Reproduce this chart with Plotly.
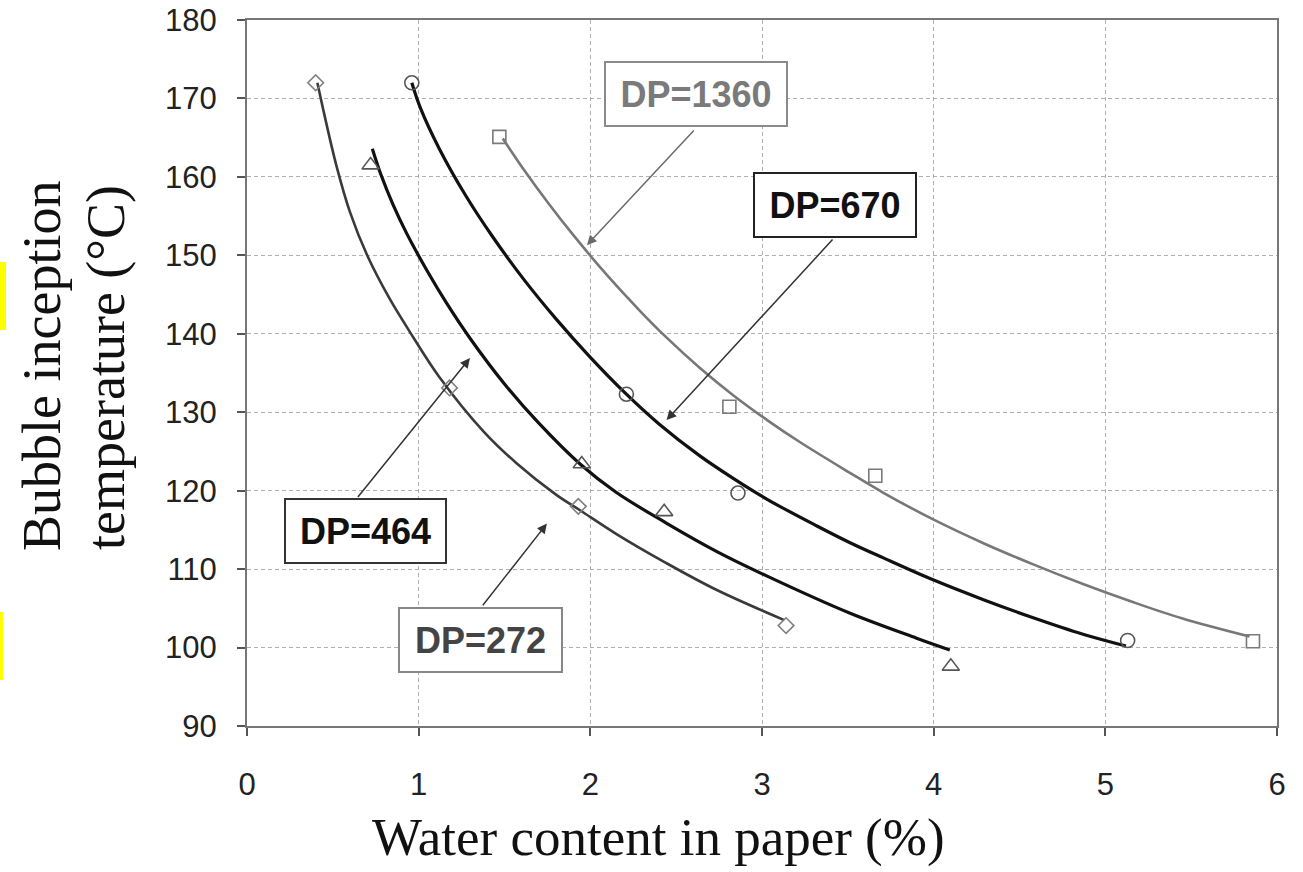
import plotly.graph_objects as go

# ---------------- data ----------------
x_ticks = [0, 1, 2, 3, 4, 5, 6]
y_ticks = [90, 100, 110, 120, 130, 140, 150, 160, 170, 180]

# measured points
dp272_x = [0.40, 1.18, 1.93, 3.14]
dp272_y = [172.0, 133.1, 118.0, 102.8]
dp464_x = [0.72, 1.95, 2.43, 4.10]
dp464_y = [161.5, 123.4, 117.3, 97.6]
dp670_x = [0.96, 2.21, 2.86, 5.13]
dp670_y = [172.0, 132.3, 119.7, 100.9]
dp1360_x = [1.47, 2.81, 3.66, 5.86]
dp1360_y = [165.1, 130.7, 121.9, 100.8]

# trend curves
c272_x = [0.41, 0.45, 0.52, 0.60, 0.70, 0.83, 0.97, 1.12, 1.38, 1.57,
          1.80, 1.94, 2.15, 2.44, 2.74, 3.13]
c272_y = [172.0, 168.0, 161.5, 155.5, 150.0, 144.5, 139.5, 134.5, 127.5, 123.5,
          119.5, 117.5, 114.5, 110.8, 107.3, 103.5]
c464_x = [0.73, 0.78, 0.85, 0.93, 1.05, 1.16, 1.30, 1.50, 1.70, 1.94,
          2.15, 2.44, 2.74, 3.03, 3.51, 3.90, 4.094]
c464_y = [163.6, 160.3, 156.5, 152.8, 148.0, 144.0, 139.4, 133.6, 128.6, 123.4,
          119.8, 115.9, 112.2, 109.1, 104.4, 101.2, 99.7]
c670_x = [0.96, 1.01, 1.12, 1.28, 1.43, 1.61, 1.80, 2.00, 2.21, 2.40,
          2.64, 2.83, 3.03, 3.32, 3.51, 3.71, 4.00, 4.29, 4.58, 4.87, 5.12]
c670_y = [172.0, 168.8, 163.6, 157.4, 152.4, 147.0, 141.9, 137.0, 132.3, 128.5,
          124.4, 121.6, 118.9, 115.5, 113.4, 111.4, 108.6, 106.1, 103.8, 101.7, 100.2]
c1360_x = [1.49, 1.61, 1.75, 1.90, 2.10, 2.29, 2.44, 2.64, 2.83, 3.03,
           3.22, 3.51, 3.71, 4.00, 4.29, 4.58, 4.87, 5.16, 5.45, 5.84]
c1360_y = [164.9, 161.0, 156.8, 152.6, 147.4, 142.9, 139.6, 135.6, 132.2, 129.0,
           126.2, 122.3, 119.7, 116.3, 113.3, 110.6, 108.1, 105.8, 103.7, 101.4]

# labels: text, box centre (data coords), text colour, border colour, box width
labels = ["DP=1360", "DP=670", "DP=464", "DP=272"]
label_x = [2.618, 3.425, 0.690, 1.360]
label_y = [170.6, 156.4, 114.9, 101.0]
label_color = ["#7a7a7a", "#111111", "#111111", "#444444"]
label_border = ["#8a8a8a", "#222222", "#333333", "#888888"]
label_w = [176, 156, 155, 157]

# arrows: from (tail) -> to (head)
arrow_from_x = [2.611, 3.419, 0.639, 1.367]
arrow_from_y = [166.1, 152.2, 119.0, 105.2]
arrow_to_x = [1.980, 2.444, 1.299, 1.747]
arrow_to_y = [151.3, 129.0, 136.9, 115.8]
arrow_color = ["#6a6a6a", "#333333", "#333333", "#333333"]

# ---------------- figure ----------------
fig = go.Figure()

curves = [
    (c272_x, c272_y, "#3a3a3a", 2.6),
    (c464_x, c464_y, "#111111", 3.2),
    (c670_x, c670_y, "#111111", 3.2),
    (c1360_x, c1360_y, "#777777", 2.6),
]
for cx, cy, col, w in curves:
    fig.add_trace(go.Scatter(x=cx, y=cy, mode="lines",
                             line=dict(color=col, width=w, shape="spline", smoothing=1.0),
                             showlegend=False, hoverinfo="skip"))

pts = [
    (dp272_x, dp272_y, "diamond-open", "#808080", 12),
    (dp464_x, dp464_y, "triangle-up-open", "#555555", 15),
    (dp670_x, dp670_y, "circle-open", "#555555", 14),
    (dp1360_x, dp1360_y, "square-open", "#7a7a7a", 13),
]
for px, py, sym, col, sz in pts:
    fig.add_trace(go.Scatter(x=px, y=py, mode="markers",
                             marker=dict(symbol=sym, size=sz, color=col,
                                         line=dict(color=col, width=1.6)),
                             showlegend=False))

# arrows
for fx, fy, tx, ty, col in zip(arrow_from_x, arrow_from_y, arrow_to_x, arrow_to_y, arrow_color):
    fig.add_annotation(x=tx, y=ty, ax=fx, ay=fy, xref="x", yref="y", axref="x", ayref="y",
                       text="", showarrow=True, arrowhead=2, arrowsize=1.3,
                       arrowwidth=1.5, arrowcolor=col, standoff=0, startstandoff=0)

# label boxes
for t, lx, ly, tc, bc, w in zip(labels, label_x, label_y, label_color, label_border, label_w):
    fig.add_annotation(x=lx, y=ly, xref="x", yref="y", text="<b>" + t + "</b>",
                       showarrow=False, font=dict(family="Liberation Sans, Arial", size=36, color=tc),
                       bgcolor="white", bordercolor=bc, borderwidth=2, borderpad=2,
                       width=w, height=58, align="center", valign="middle")

# axis titles
fig.add_annotation(x=(658 - 247) / 1030, y=(726 - 838) / 706, xref="paper", yref="paper",
                   text="Water content in paper (%)", showarrow=False,
                   font=dict(family="Liberation Serif, Times New Roman", size=53, color="#111111"),
                   xanchor="center", yanchor="middle")
fig.add_annotation(x=(42 - 247) / 1030, y=(726 - 366) / 706, xref="paper", yref="paper",
                   text="Bubble inception", showarrow=False, textangle=-90,
                   font=dict(family="Liberation Serif, Times New Roman", size=54, color="#111111"),
                   xanchor="center", yanchor="middle")
fig.add_annotation(x=(106 - 247) / 1030, y=(726 - 368) / 706, xref="paper", yref="paper",
                   text="temperature (°C)", showarrow=False, textangle=-90,
                   font=dict(family="Liberation Serif, Times New Roman", size=54, color="#111111"),
                   xanchor="center", yanchor="middle")

# yellow marks at the left edge
fig.add_shape(type="rect", xref="paper", yref="paper",
              x0=(0 - 247) / 1030, x1=(6 - 247) / 1030,
              y0=(726 - 330) / 706, y1=(726 - 262) / 706,
              fillcolor="#ffff00", line=dict(width=0))
fig.add_shape(type="rect", xref="paper", yref="paper",
              x0=(0 - 247) / 1030, x1=(3 - 247) / 1030,
              y0=(726 - 680) / 706, y1=(726 - 612) / 706,
              fillcolor="#ffff00", line=dict(width=0))

axis_common = dict(showline=True, linecolor="#777777", linewidth=2, mirror=True,
                   ticks="outside", ticklen=8, tickwidth=2, tickcolor="#555555",
                   showgrid=True, gridcolor="#b0b0b0", griddash="4px,3px", gridwidth=1,
                   zeroline=False, automargin=False,
                   tickfont=dict(family="Liberation Sans, Arial", size=31, color="#222222"))

fig.update_xaxes(range=[0, 6], tickvals=x_ticks, ticktext=[str(v) for v in x_ticks],
                 ticklabelstandoff=22, **axis_common)
fig.update_yaxes(range=[90, 180], tickvals=y_ticks, ticktext=[str(v) for v in y_ticks],
                 ticklabelstandoff=14, **axis_common)

fig.update_layout(width=1303, height=872, autosize=False,
                  margin=dict(l=247, r=26, t=20, b=146),
                  paper_bgcolor="white", plot_bgcolor="white",
                  showlegend=False)

fig.write_html("out.html", config={"displayModeBar": False},
               post_script="document.body.style.margin='0';document.body.style.overflow='hidden';")
